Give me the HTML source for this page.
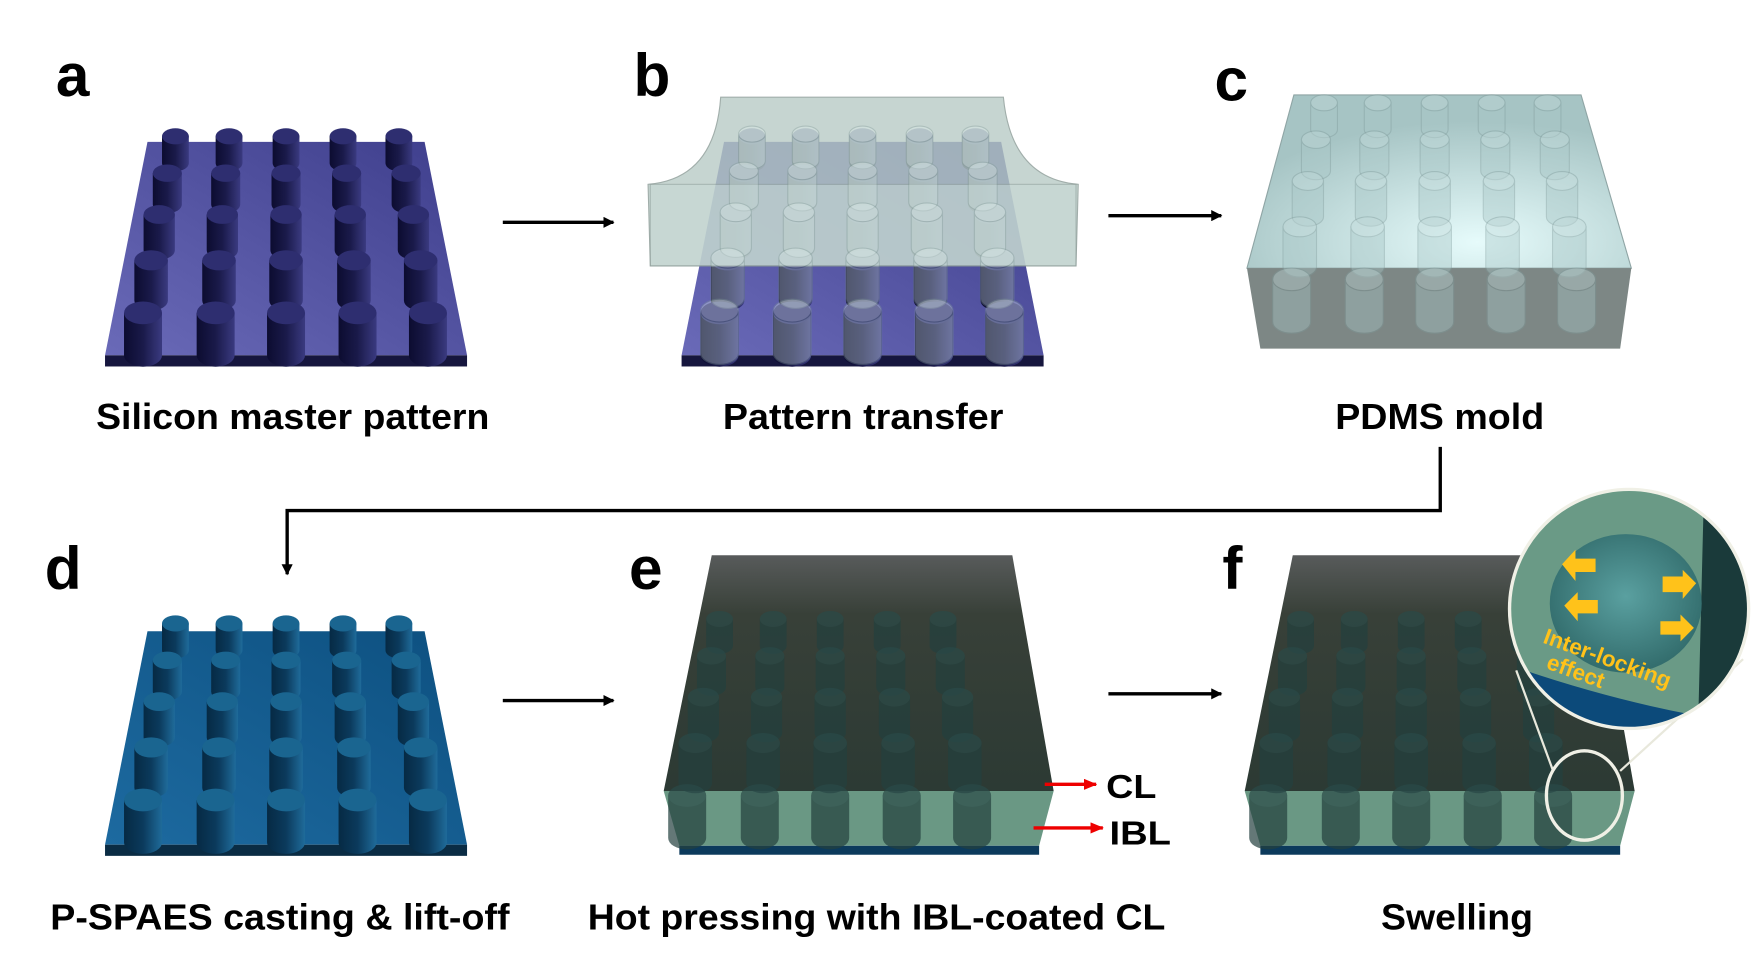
<!DOCTYPE html>
<html><head><meta charset="utf-8"><style>
html,body{margin:0;padding:0;background:#fff;}
svg{display:block;}
text{font-family:"Liberation Sans",Arial,sans-serif;font-weight:bold;}
</style></head><body>
<svg id="s" width="1752" height="962" viewBox="0 0 1568 861" preserveAspectRatio="none" xmlns="http://www.w3.org/2000/svg">
<defs>
<linearGradient id="pa" x1="0" y1="1" x2="1" y2="0"><stop offset="0" stop-color="#6a6ab8"/><stop offset="1" stop-color="#3e3e8c"/></linearGradient>
<linearGradient id="pd" x1="0" y1="1" x2="1" y2="0"><stop offset="0" stop-color="#1d6aa0"/><stop offset="1" stop-color="#0d5080"/></linearGradient>
<linearGradient id="cyl1" x1="0" x2="1"><stop offset="0" stop-color="#0c0c30"/><stop offset="0.5" stop-color="#1a1a4a"/><stop offset="1" stop-color="#3a3a80"/></linearGradient>
<linearGradient id="cyl2" x1="0" x2="1"><stop offset="0" stop-color="#062a44"/><stop offset="0.5" stop-color="#0b3a5c"/><stop offset="1" stop-color="#1f6b9a"/></linearGradient>
<radialGradient id="pc" cx="0.6" cy="0.85" r="0.7"><stop offset="0" stop-color="#e6fbfb"/><stop offset="1" stop-color="#a6c4c4"/></radialGradient>
<linearGradient id="dk" x1="0" y1="0" x2="0" y2="1"><stop offset="0" stop-color="#585b5b"/><stop offset="0.25" stop-color="#384038"/><stop offset="1" stop-color="#2c3a34"/></linearGradient>
<radialGradient id="mg" cx="0.5" cy="0.45" r="0.6"><stop offset="0" stop-color="#5aa0a0"/><stop offset="1" stop-color="#2f6868"/></radialGradient>
<clipPath id="cc"><circle cx="1458" cy="545" r="106"/></clipPath>
<marker id="ah" markerWidth="10" markerHeight="10" refX="9" refY="5" orient="auto" markerUnits="userSpaceOnUse"><path d="M0,0 L10,5 L0,10 z" fill="#000"/></marker>
<marker id="rh" markerWidth="12" markerHeight="10" refX="11" refY="5" orient="auto" markerUnits="userSpaceOnUse"><path d="M0,0 L12,5 L0,10 z" fill="#e00"/></marker>
</defs>
<g id="g"></g>
<g stroke="#000" stroke-width="3" fill="none">
<line x1="450" y1="199" x2="549" y2="199" marker-end="url(#ah)"/>
<line x1="992" y1="193" x2="1093" y2="193" marker-end="url(#ah)"/>
<line x1="450" y1="627" x2="549" y2="627" marker-end="url(#ah)"/>
<line x1="992" y1="621" x2="1093" y2="621" marker-end="url(#ah)"/>
<polyline points="1289,400 1289,457 257,457 257,514" marker-end="url(#ah)"/>
</g>
<g stroke="#e00" stroke-width="3">
<line x1="935" y1="702" x2="981" y2="702" marker-end="url(#rh)"/>
<line x1="925" y1="741" x2="987" y2="741" marker-end="url(#rh)"/>
</g>
<g font-size="30" fill="#000">
<text x="990" y="714" textLength="45" lengthAdjust="spacingAndGlyphs">CL</text>
<text x="993" y="756" textLength="55" lengthAdjust="spacingAndGlyphs">IBL</text>
</g>
<g font-size="54" fill="#000">
<text x="50" y="86">a</text><text x="567" y="86">b</text><text x="1087" y="90">c</text>
<text x="40" y="527">d</text><text x="563" y="527">e</text><text x="1094" y="527">f</text>
</g>
<g font-size="32" fill="#000" lengthAdjust="spacingAndGlyphs">
<text x="86" y="384" textLength="352" lengthAdjust="spacingAndGlyphs">Silicon master pattern</text>
<text x="647" y="384" textLength="251" lengthAdjust="spacingAndGlyphs">Pattern transfer</text>
<text x="1195" y="384" textLength="187" lengthAdjust="spacingAndGlyphs">PDMS mold</text>
<text x="45" y="832" textLength="411" lengthAdjust="spacingAndGlyphs">P-SPAES casting &amp; lift-off</text>
<text x="526" y="832" textLength="517" lengthAdjust="spacingAndGlyphs">Hot pressing with IBL-coated CL</text>
<text x="1236" y="832" textLength="136" lengthAdjust="spacingAndGlyphs">Swelling</text>
</g>
</svg>
<script>
var g=document.getElementById('g'),NS='http://www.w3.org/2000/svg';
function el(t,a,p){var e=document.createElementNS(NS,t);for(var k in a)e.setAttribute(k,a[k]);(p||g).appendChild(e);return e;}
var rowsTop=[122,155,192,233,280],hs=[24,28,32,36,38],ws=[24,26,28,30,34];
var c0=[157,205,256,307,357],c4=[128,193,256,320,383];
function pillars(dx,dy,body,top,op,stroke){
 for(var r=0;r<5;r++){var t=r/4;for(var c=0;c<5;c++){
  var x=dx+c0[c]+(c4[c]-c0[c])*t,y=dy+rowsTop[r],w=ws[r],h=hs[r],ry=w*0.3;
  var gg=el('g',{opacity:op});
  el('path',{d:'M'+(x-w/2)+','+y+' v'+h+' a'+(w/2)+','+ry+' 0 0 0 '+w+',0 v'+(-h)+' z',fill:body,stroke:stroke||'none'},gg);
  el('ellipse',{cx:x,cy:y,rx:w/2,ry:ry,fill:top,stroke:stroke||'none'},gg);
 }}
}
function plate(dx,dy,fill,base){
 el('polygon',{points:(dx+132)+','+(dy+127)+' '+(dx+380)+','+(dy+127)+' '+(dx+418)+','+(dy+318)+' '+(dx+94)+','+(dy+318),fill:fill});
 el('rect',{x:dx+94,y:dy+318,width:324,height:10,fill:base});
}
plate(0,0,'url(#pa)','#16163e');pillars(0,0,'url(#cyl1)','#2e2e70',1);
plate(516,0,'url(#pa)','#16163e');pillars(516,0,'url(#cyl1)','#2e2e70',1);
el('path',{d:'M645,87 L898,87 Q905,160 965,165 L963,238 L582,238 L580,165 Q640,160 645,87 z',fill:'#b8cbc6',opacity:0.8,stroke:'#8a9a96'});
el('rect',{x:582,y:165,width:381,height:73,fill:'#c8dad6',opacity:0.5,stroke:'#8a9a96'});
pillars(516,-2,'#cfe2e0','#e2f0ee',0.35,'#7f9896');
el('polygon',{points:'1158,85 1415,85 1460,240 1116,240',fill:'url(#pc)',stroke:'#8fa5a5'});
el('polygon',{points:'1116,240 1460,240 1450,312 1128,312',fill:'#7d8785'});
pillars(1028,-30,'#a9c7c7','#c2dada',0.4,'#7f9a9a');
plate(0,438,'url(#pd)','#0a2c44');pillars(0,436,'url(#cyl2)','#1a6590',1);
function box(dx){
 el('polygon',{points:(dx+637)+',497 '+(dx+906)+',497 '+(dx+943)+',708 '+(dx+594)+',708',fill:'url(#dk)'});
 el('polygon',{points:(dx+594)+',708 '+(dx+943)+',708 '+(dx+930)+',757 '+(dx+608)+',757',fill:'#6a9884'});
 el('rect',{x:dx+608,y:757,width:322,height:8,fill:'#0c3a5c'});
 pillars(dx+487,432,'#23403e','#2a4a48',0.7);
}
box(0);box(520);
el('line',{x1:1390,y1:690,x2:1357,y2:600,stroke:'#e8e8dc','stroke-width':2});
el('line',{x1:1450,y1:690,x2:1560,y2:590,stroke:'#e8e8dc','stroke-width':2});
el('ellipse',{cx:1418,cy:712,rx:34,ry:40,fill:'none',stroke:'#f0f0e6','stroke-width':3});
var cg=el('g',{'clip-path':'url(#cc)'});
el('rect',{x:1340,y:430,width:240,height:240,fill:'#6a9a86'},cg);
el('path',{d:'M1350,595 Q1450,630 1545,645 L1545,670 L1350,670 z',fill:'#0c4a7a'},cg);
el('path',{d:'M1525,440 L1575,470 L1575,660 L1520,640 z',fill:'#1a3a3a'},cg);
el('ellipse',{cx:1455,cy:540,rx:68,ry:62,fill:'url(#mg)'},cg);
el('circle',{cx:1458,cy:545,r:107,fill:'none',stroke:'#f0f0e6','stroke-width':3});
var Y='#ffc21a';
el('polygon',{points:'1398,505 1410,492 1410,500 1428,500 1428,512 1410,512 1410,520',fill:Y});
el('polygon',{points:'1400,542 1412,530 1412,537 1430,537 1430,549 1412,549 1412,556',fill:Y});
el('polygon',{points:'1518,522 1506,510 1506,516 1488,516 1488,530 1506,530 1506,536',fill:Y});
el('polygon',{points:'1516,562 1504,550 1504,556 1486,556 1486,568 1504,568 1504,574',fill:Y});
var t=el('text',{x:1380,y:575,fill:Y,'font-size':20,transform:'rotate(20 1380 575)'});t.textContent='Inter-locking';
var t2=el('text',{x:1383,y:598,fill:Y,'font-size':20,transform:'rotate(20 1383 598)'});t2.textContent='effect';
</script>
</body></html>
